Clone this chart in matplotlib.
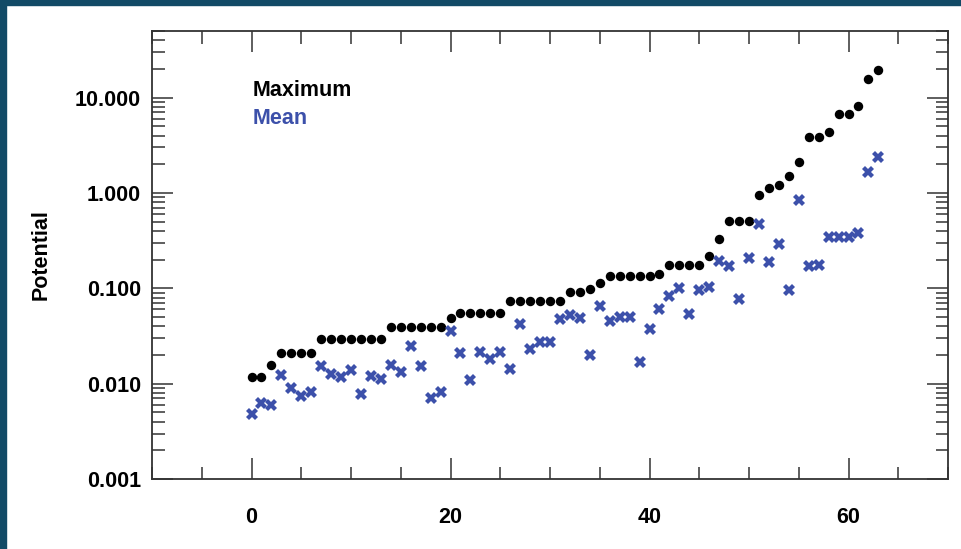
import numpy as np
import matplotlib
matplotlib.use("Agg")
import matplotlib.pyplot as plt
from matplotlib.patches import Rectangle
from matplotlib.ticker import LogLocator, MultipleLocator, FixedLocator, FuncFormatter

# data (index 0..63)
idx = np.arange(64)
maximum = [0.0118, 0.0118, 0.0158, 0.0211, 0.0211, 0.0211, 0.0211,
           0.0292, 0.0292, 0.0292, 0.0292, 0.0292, 0.0292, 0.0292,
           0.0396, 0.0396, 0.0396, 0.0396, 0.0396, 0.0396,
           0.0484, 0.0546, 0.0546, 0.0546, 0.0546, 0.0546,
           0.074, 0.074, 0.074, 0.074, 0.074, 0.074,
           0.0912, 0.0912, 0.099, 0.114,
           0.134, 0.134, 0.134, 0.134, 0.134, 0.141,
           0.176, 0.176, 0.176, 0.176, 0.217, 0.327,
           0.505, 0.505, 0.505, 0.96, 1.136, 1.20, 1.49, 2.09,
           3.84, 3.84, 4.34, 6.75, 6.75, 8.25, 15.5, 19.6]
mean = [0.00483, 0.00625, 0.00604, 0.01236, 0.0089, 0.00745, 0.0082,
        0.01535, 0.01267, 0.01187, 0.01394, 0.00776, 0.01208, 0.0113,
        0.01573, 0.0134, 0.0247, 0.01524, 0.00705, 0.00827,
        0.0360, 0.0208, 0.01096, 0.0217, 0.01817, 0.0215,
        0.01428, 0.0422, 0.0231, 0.0272, 0.0272, 0.0473,
        0.0520, 0.0484, 0.0200, 0.0656,
        0.0457, 0.0503, 0.0503, 0.0169, 0.0372, 0.0611,
        0.0835, 0.0998, 0.0537, 0.0957, 0.102, 0.194,
        0.171, 0.0777, 0.208, 0.470, 0.188, 0.290, 0.0957, 0.837,
        0.171, 0.176, 0.346, 0.346, 0.346, 0.381, 1.64, 2.41]

plt.rcParams['font.family'] = ['Liberation Sans', 'DejaVu Sans']
plt.rcParams['font.weight'] = 'bold'
fs = 15.5
blue = '#3c50aa'

fig = plt.figure(figsize=(9.62, 5.49), dpi=100)
fig.patch.set_facecolor('white')
# dark frame strips on left and top
fig.add_artist(Rectangle((0, 0), 6 / 962, 1, transform=fig.transFigure,
                         color='#124a66', zorder=0))
fig.add_artist(Rectangle((0, 1 - 5 / 549), 1, 5 / 549, transform=fig.transFigure,
                         color='#124a66', zorder=0))

ax = fig.add_axes([152 / 962, 70 / 549, 796 / 962, 448 / 549])
ax.plot(idx, maximum, 'o', color='black', markersize=6.8, markeredgewidth=0)
ax.plot(idx, mean, 'X', color=blue, markersize=8.5, markeredgewidth=0)

ax.set_yscale('log')
ax.set_xlim(-10, 70)
ax.set_ylim(0.001, 50)

ax.xaxis.set_major_locator(FixedLocator([0, 20, 40, 60]))
ax.xaxis.set_minor_locator(MultipleLocator(5))
ax.yaxis.set_major_locator(LogLocator(base=10, numticks=10))
ax.yaxis.set_minor_locator(LogLocator(base=10, subs=np.arange(2, 10), numticks=20))
ax.yaxis.set_major_formatter(FuncFormatter(lambda v, p: '%.3f' % v))
ax.yaxis.set_minor_formatter(FuncFormatter(lambda v, p: ''))

ax.tick_params(which='both', direction='in', top=True, right=True,
               color='#333333', width=1.1)
ax.tick_params(which='major', length=15)
ax.tick_params(which='minor', length=9)
ax.tick_params(axis='x', which='major', pad=20, labelsize=fs)
ax.tick_params(axis='y', which='major', pad=8, labelsize=fs)
for s in ax.spines.values():
    s.set_color('#333333')
    s.set_linewidth(1.3)

ax.set_ylabel('Potential', fontsize=fs, fontweight='bold', labelpad=17)

ax.text(0.1265, 0.868, 'Maximum', transform=ax.transAxes, color='black',
        fontsize=fs, fontweight='bold', va='center', ha='left')
ax.text(0.1265, 0.804, 'Mean', transform=ax.transAxes, color=blue,
        fontsize=fs, fontweight='bold', va='center', ha='left')

fig.savefig('out.png', dpi=100)
